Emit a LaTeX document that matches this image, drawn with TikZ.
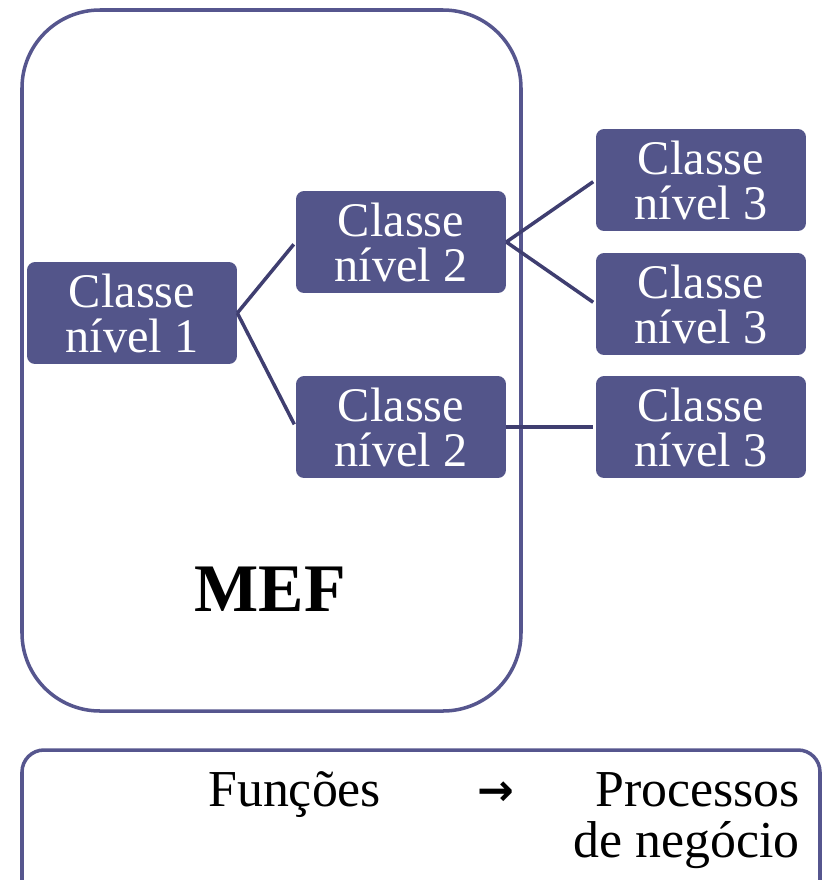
\documentclass[tikz,border=0pt]{standalone}
\usepackage{fontspec}
\setmainfont{Liberation Serif}
\newfontfamily\setafont{DejaVu Sans}
\usepackage{tikz}
\definecolor{boxfill}{HTML}{53558A}
\definecolor{linkcol}{HTML}{3F3E70}
\definecolor{framecol}{HTML}{56568E}

\begin{document}
\begin{tikzpicture}[x=0.02cm,y=-0.02cm,
  classe/.style={fill=boxfill,rounded corners=0.16cm,minimum width=4.2cm,minimum height=2.04cm,
    text=white,align=center,inner sep=0pt,font=\fontsize{27.5pt}{25.6pt}\selectfont},
  link/.style={draw=linkcol,line width=2pt,shorten >=0.06cm},
  frame/.style={draw=framecol,line width=2pt},
  rodape/.style={inner sep=0pt,font=\fontsize{29.5pt}{29.5pt}\selectfont}]
\useasboundingbox (0,0) rectangle (825,880);
\draw[frame,rounded corners=1.56cm] (22,10) rectangle (521,711);
\draw[frame,rounded corners=0.44cm] (22,750) rectangle (820,930);
\node[classe] (n1) at (132,313) {Classe\\nível 1};
\node[classe] (n2a) at (401,242) {Classe\\nível 2};
\node[classe] (n2b) at (401,427) {Classe\\nível 2};
\node[classe] (n3a) at (701,180) {Classe\\nível 3};
\node[classe] (n3b) at (701,304) {Classe\\nível 3};
\node[classe] (n3c) at (701,427) {Classe\\nível 3};
\draw[link] (n1.east) -- (n2a.west);
\draw[link] (n1.east) -- (n2b.west);
\draw[link] (n2a.east) -- (n3a.west);
\draw[link] (n2a.east) -- (n3b.west);
\draw[link] (n2b.east) -- (n3c.west);
\node[inner sep=0pt,anchor=base,font=\fontsize{38.7pt}{38.7pt}\selectfont\bfseries] (mef) at (270,611) {MEF};
\node[rodape,anchor=base west] (func) at (208,806) {Funções};
\node[rodape,anchor=base west,font=\setafont\bfseries\fontsize{25pt}{25pt}\selectfont] (seta) at (477,805) {→};
\node[rodape,anchor=base east] (proc) at (800,806) {Processos};
\node[rodape,anchor=base east] (neg) at (800,857) {de negócio};
\end{tikzpicture}
\end{document}
